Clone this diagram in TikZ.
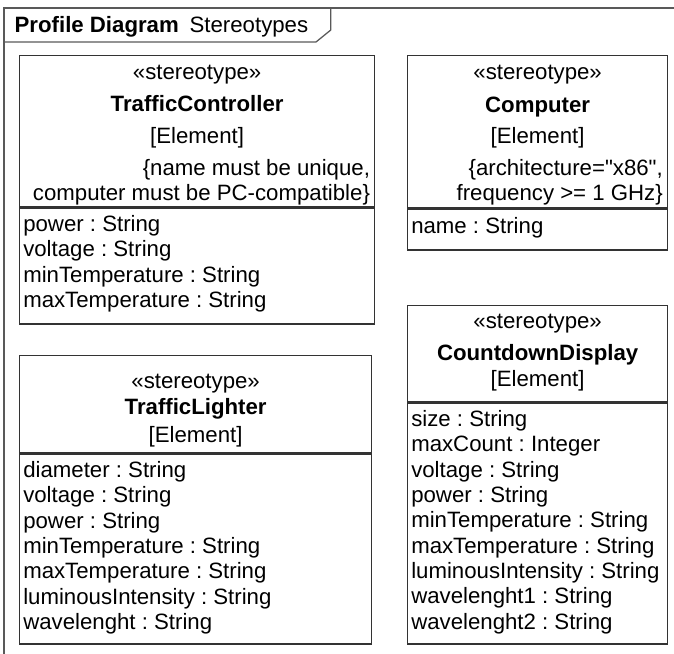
\documentclass[tikz,border=0pt]{standalone}
\usepackage{fontspec}
\setmainfont{Liberation Sans}
\usetikzlibrary{positioning,calc}
\frenchspacing

\begin{document}
\begin{tikzpicture}[
            frameline/.style={draw=black!65, line width=0.9pt},
            headbox/.style={draw=black!80, line width=0.9pt, anchor=north west, inner sep=0pt}, % compartment
            txt/.style={font=\fontsize{15.8pt}{18pt}\selectfont, inner sep=0pt},
            lbl/.style={txt, anchor=base}
        ]
        \useasboundingbox (0,0) rectangle (16.85,-16.35);

        % Diagram frame
        \draw[frameline] (16.85,-0.2) -- (0.1,-0.2) -- (0.1,-16.35);
        \draw[frameline] (0.1,-1.05) -- (7.9,-1.05) -- (8.27,-0.75) -- (8.27,-0.2);
        \node[txt, anchor=base west] (title) at (0.36,-0.81) {\textbf{Profile Diagram}\hspace{0.27cm}Stereotypes};

        % TrafficController
        \node[headbox, minimum width=8.875cm, minimum height=3.775cm] (ctrlhead) at (0.475,-1.375) {};
        \node[headbox, minimum width=8.875cm, minimum height=2.9cm] (ctrlattr) at (ctrlhead.south west) {};
        \node[lbl] (ctrlst) at ($(ctrlhead.north) + (0,-0.625)$) {«stereotype»};
        \node[lbl] (ctrlname) at ($(ctrlhead.north) + (0,-1.425)$) {\textbf{TrafficController}};
        \node[lbl] (ctrlel) at ($(ctrlhead.north) + (0,-2.2125)$) {[Element]};
        \node[txt, anchor=north east, align=right] (ctrlcons) at ($(ctrlhead.north east) + (-0.125,-2.6)$) {
            \{name must be unique,\\
            computer must be PC-compatible\}
        };
        \node[txt, anchor=north west, align=left] (ctrlprops) at ($(ctrlattr.north west) + (0.1,-0.2)$) {
            power : String\\
            voltage : String\\
            minTemperature : String\\
            maxTemperature : String
        };

        % Computer
        \node[headbox, minimum width=6.5cm, minimum height=3.8cm] (comphead) at (10.175,-1.375) {};
        \node[headbox, minimum width=6.5cm, minimum height=1.025cm] (compattr) at (comphead.south west) {};
        \node[lbl] (compst) at ($(comphead.north) + (0,-0.625)$) {«stereotype»};
        \node[lbl] (compname) at ($(comphead.north) + (0,-1.45)$) {\textbf{Computer}};
        \node[lbl] (compel) at ($(comphead.north) + (0,-2.2125)$) {[Element]};
        \node[txt, anchor=north east, align=right] (compcons) at ($(comphead.north east) + (-0.13,-2.6)$) {
            \{architecture=\textquotedbl x86\textquotedbl,\\
            frequency >= 1 GHz\}
        };
        \node[txt, anchor=north west, align=left] (compprops) at ($(compattr.north west) + (0.1,-0.22)$) {
            name : String
        };

        % TrafficLighter
        \node[headbox, minimum width=8.8cm, minimum height=2.425cm] (lighthead) at (0.475,-8.875) {};
        \node[headbox, minimum width=8.8cm, minimum height=4.75cm] (lightattr) at (lighthead.south west) {};
        \node[lbl] (lightst) at ($(lighthead.north) + (0,-0.85)$) {«stereotype»};
        \node[lbl] (lightname) at ($(lighthead.north) + (0,-1.5)$) {\textbf{TrafficLighter}};
        \node[lbl] (lightel) at ($(lighthead.north) + (0,-2.2)$) {[Element]};
        \node[txt, anchor=north west, align=left] (lightprops) at ($(lightattr.north west) + (0.1,-0.2)$) {
            diameter : String\\
            voltage : String\\
            power : String\\
            minTemperature : String\\
            maxTemperature : String\\
            luminousIntensity : String\\
            wavelenght : String
        };

        % CountdownDisplay
        \node[headbox, minimum width=6.5cm, minimum height=2.4cm] (cdhead) at (10.175,-7.625) {};
        \node[headbox, minimum width=6.5cm, minimum height=6.025cm] (cdattr) at (cdhead.south west) {};
        \node[lbl] (cdst) at ($(cdhead.north) + (0,-0.6)$) {«stereotype»};
        \node[lbl] (cdname) at ($(cdhead.north) + (0,-1.4)$) {\textbf{CountdownDisplay}};
        \node[lbl] (cdel) at ($(cdhead.north) + (0,-2.05)$) {[Element]};
        \node[txt, anchor=north west, align=left] (cdprops) at ($(cdattr.north west) + (0.1,-0.2)$) {
            size : String\\
            maxCount : Integer\\
            voltage : String\\
            power : String\\
            minTemperature : String\\
            maxTemperature : String\\
            luminousIntensity : String\\
            wavelenght1 : String\\
            wavelenght2 : String
        };

\end{tikzpicture}
\end{document}
